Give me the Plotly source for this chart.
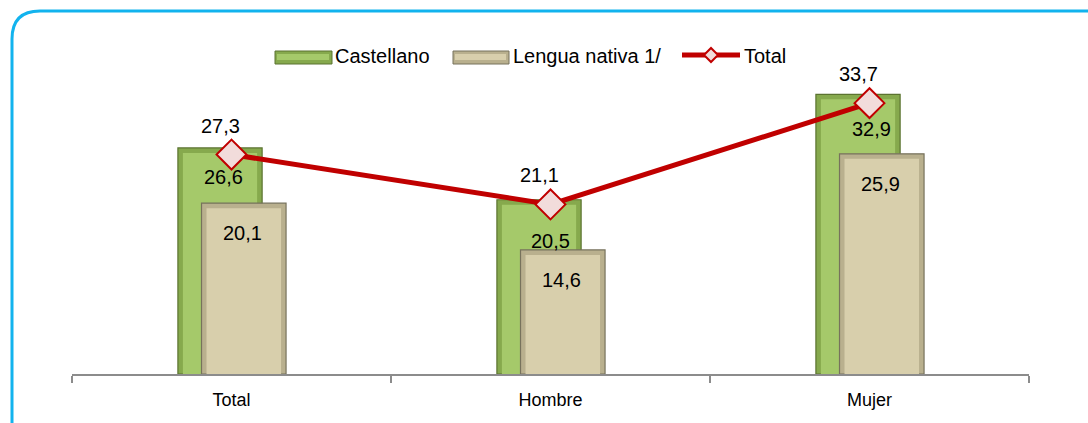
import plotly.graph_objects as go

# ---- data ----
categories = ["Total", "Hombre", "Mujer"]
castellano = [26.6, 20.5, 32.9]
lengua_nativa = [20.1, 14.6, 25.9]
total = [27.3, 21.1, 33.7]
series_names = ["Castellano", "Lengua nativa 1/", "Total"]

def fmt(v):
    return f"{v:.1f}".replace(".", ",")

FONT = "Liberation Sans, Arial, sans-serif"
GREEN_OUT = "#86A94D"
GREEN_IN = "#A5C96A"
GREEN_LINE = "#5B7330"
BEIGE_OUT = "#B9B08E"
BEIGE_IN = "#D8CFAC"
BEIGE_LINE = "#77725C"
RED = "#C00000"

# pixel geometry of plot area
plot_l, plot_r, plot_t, plot_b = 72, 1029, 34, 374
W = plot_r - plot_l
H = plot_b - plot_t
CAT_PX = W / len(categories)
Y1_MAX = 40.0
Y2_MAX = 42.3

def px(xp):
    return (xp - plot_l) / W
def py(yp):
    return (plot_b - yp) / H

bevel_px = 5
bw = bevel_px / CAT_PX          # category units
bh = bevel_px * Y1_MAX / H      # value units

fig = go.Figure()

def add_bar(name, vals, offset, width, c_out, c_in, c_line):
    fig.add_trace(go.Bar(
        name=name, x=categories, y=vals, offset=offset, width=width,
        marker=dict(color=c_out, line=dict(color=c_line, width=1.2)),
        showlegend=False, hoverinfo="x+y",
    ))
    fig.add_trace(go.Bar(
        name=name, x=categories, y=[v - bh for v in vals],
        offset=offset + bw, width=width - 2 * bw,
        marker=dict(color=c_in, line=dict(width=0)),
        showlegend=False, hoverinfo="skip",
    ))

add_bar(series_names[0], castellano, -0.168, 0.264, GREEN_OUT, GREEN_IN, GREEN_LINE)
add_bar(series_names[1], lengua_nativa, -0.094, 0.265, BEIGE_OUT, BEIGE_IN, BEIGE_LINE)

fig.add_trace(go.Scatter(
    name=series_names[2], x=categories, y=total, yaxis="y2",
    mode="lines+markers",
    line=dict(color=RED, width=5),
    marker=dict(symbol="diamond", size=23, color="#F2DCDB",
                line=dict(color=RED, width=2)),
    showlegend=False,
))

LBL = dict(size=20, color="black", family=FONT)
annotations = []
cast_dx = [-8, 0, 2]
cast_dy = [-29, -41, -35]
for i, c in enumerate(categories):
    annotations.append(dict(x=c, y=castellano[i], xref="x", yref="y",
                            text=fmt(castellano[i]), showarrow=False,
                            xshift=cast_dx[i], yshift=cast_dy[i], font=LBL))
    annotations.append(dict(x=c, y=lengua_nativa[i], xref="x", yref="y",
                            text=fmt(lengua_nativa[i]), showarrow=False,
                            xshift=11, yshift=-30, font=LBL))
    annotations.append(dict(x=c, y=total[i], xref="x", yref="y2",
                            text=fmt(total[i]), showarrow=False,
                            xshift=-11, yshift=29, font=LBL))

# ---- custom legend (pixel layout converted to paper coords) ----
shapes = []
leg_y = 57
leg_items = [
    (275, 332, 333, GREEN_OUT, GREEN_IN, GREEN_LINE, "bar"),
    (453, 509, 511, BEIGE_OUT, BEIGE_IN, BEIGE_LINE, "bar"),
    (682, 740, 742, RED, "#F2DCDB", RED, "line"),
]
for (sx0, sx1, tx, c1, c2, c3, kind), name in zip(leg_items, series_names):
    if kind == "bar":
        shapes.append(dict(type="rect", xref="paper", yref="paper",
                           x0=px(sx0), x1=px(sx1), y0=py(leg_y + 7), y1=py(leg_y - 6),
                           fillcolor=c1, line=dict(color=c3, width=1)))
        shapes.append(dict(type="rect", xref="paper", yref="paper",
                           x0=px(sx0 + 2), x1=px(sx1 - 3), y0=py(leg_y + 3), y1=py(leg_y - 3),
                           fillcolor=c2, line=dict(width=0)))
    else:
        shapes.append(dict(type="line", xref="paper", yref="paper",
                           x0=px(sx0), x1=px(sx1), y0=py(leg_y - 2), y1=py(leg_y - 2),
                           line=dict(color=c1, width=5)))
        cx = (sx0 + sx1) / 2
        d = 7
        shapes.append(dict(type="path", xref="paper", yref="paper",
                           path=(f"M {px(cx - d)},{py(leg_y - 2)} L {px(cx)},{py(leg_y - 2 - d)} "
                                 f"L {px(cx + d)},{py(leg_y - 2)} L {px(cx)},{py(leg_y - 2 + d)} Z"),
                           fillcolor=c2, line=dict(color=c1, width=2)))
    annotations.append(dict(x=px(tx), y=py(leg_y - 1), xref="paper", yref="paper",
                            xanchor="left", yanchor="middle", showarrow=False,
                            text=name, font=dict(size=20, color="black", family=FONT)))

# rounded frame (top-left corner visible, rest runs off the page)
x0, ytop, rr = 12, 11, 28
frame_path = (f"M {px(x0)},{py(440)} L {px(x0)},{py(ytop + rr)} "
              f"Q {px(x0)},{py(ytop)} {px(x0 + rr)},{py(ytop)} "
              f"L {px(1100)},{py(ytop)}")
shapes.append(dict(type="path", path=frame_path, xref="paper", yref="paper",
                   line=dict(color="#12B3EE", width=3), layer="below"))

fig.update_layout(
    width=1088, height=423,
    margin=dict(l=plot_l, r=1088 - plot_r, t=plot_t, b=423 - plot_b),
    paper_bgcolor="white", plot_bgcolor="white",
    barmode="overlay",
    font=dict(family=FONT, size=19, color="black"),
    showlegend=False,
    xaxis=dict(showline=True, linecolor="#8C8C8C", linewidth=1.5,
               ticks="outside", ticklen=7, tickcolor="#8C8C8C", tickwidth=1.5,
               tickson="boundaries", showgrid=False, ticklabelstandoff=9,
               tickfont=dict(size=18, family=FONT, color="black")),
    yaxis=dict(range=[0, Y1_MAX], visible=False, showgrid=False),
    yaxis2=dict(range=[0, Y2_MAX], visible=False, showgrid=False,
                overlaying="y", side="right"),
    annotations=annotations,
    shapes=shapes,
)

fig.write_html("out.html", config={"displayModeBar": False},
               post_script="document.body.style.margin='0px';document.body.style.overflow='hidden';")
